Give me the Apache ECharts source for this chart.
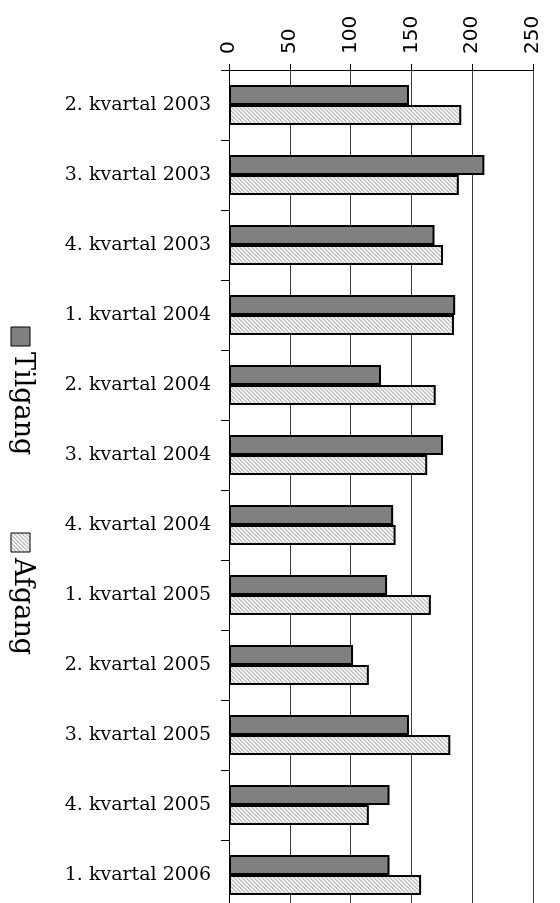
<!DOCTYPE html>
<html>
<head>
<meta charset="utf-8">
<script src="https://cdn.jsdelivr.net/npm/echarts@6/dist/echarts.min.js"></script>
<style>
html,body{margin:0;padding:0;background:#fff;}
#chart{width:560px;height:903px;}
</style>
</head>
<body>
<div id="chart"></div>
<script>
const categories = ['2. kvartal 2003','3. kvartal 2003','4. kvartal 2003','1. kvartal 2004','2. kvartal 2004','3. kvartal 2004','4. kvartal 2004','1. kvartal 2005','2. kvartal 2005','3. kvartal 2005','4. kvartal 2005','1. kvartal 2006'];
const seriesNames = ['Tilgang','Afgang'];
const tilgang = [148, 210, 169, 186, 125, 176, 135, 130, 102, 148, 132, 132];
const afgang = [191, 189, 176, 185, 170, 163, 137, 166, 115, 182, 115, 158];
const valueTicks = [0, 50, 100, 150, 200, 250];

function makeHatch() {
  const c = document.createElement('canvas');
  c.width = 8; c.height = 8;
  const ctx = c.getContext('2d');
  ctx.fillStyle = '#f6f6f6';
  ctx.fillRect(0, 0, 8, 8);
  for (let y = 0; y < 8; y++) {
    for (let x = 0; x < 8; x++) {
      const m = ((x - y) % 4 + 4) % 4;
      if (m === 0) { ctx.fillStyle = '#b8b8b8'; ctx.fillRect(x, y, 1, 1); }
      else if (m === 1) { ctx.fillStyle = '#d4d4d4'; ctx.fillRect(x, y, 1, 1); }
    }
  }
  return c;
}
const hatch = makeHatch();
const hatchFill = { image: hatch, repeat: 'repeat' };
const fills = ['#808080', hatchFill];

const chart = echarts.init(document.getElementById('chart'), null, { renderer: 'canvas' });

const legendGraphics = [];
const legendY = [327, 533];
seriesNames.forEach((name, i) => {
  legendGraphics.push({
    type: 'rect',
    shape: { x: 11, y: legendY[i], width: 19, height: 19 },
    style: { fill: fills[i], stroke: '#000', lineWidth: 1 }
  });
  legendGraphics.push({
    type: 'text',
    x: 22, y: legendY[i] + 25,
    rotation: -Math.PI / 2,
    style: {
      text: name,
      font: '27px "DejaVu Serif"',
      fill: '#000',
      align: 'left',
      verticalAlign: 'middle'
    }
  });
});

chart.setOption({
  animation: false,
  backgroundColor: '#fff',
  grid: { left: 229, width: 304, top: 70, height: 840, containLabel: false, outerBoundsMode: 'none' },
  xAxis: {
    type: 'value',
    position: 'top',
    min: valueTicks[0],
    max: valueTicks[valueTicks.length - 1],
    interval: valueTicks[1] - valueTicks[0],
    axisLine: { show: true, lineStyle: { color: '#000', width: 1 } },
    axisTick: { show: true, inside: false, length: 6, lineStyle: { color: '#000' } },
    splitLine: { show: true, lineStyle: { color: '#3a3a3a', width: 1 } },
    axisLabel: {
      rotate: -90,
      margin: 16,
      color: '#000',
      fontFamily: 'DejaVu Sans',
      fontSize: 20
    }
  },
  yAxis: {
    type: 'category',
    inverse: true,
    data: categories,
    axisLine: { show: true, lineStyle: { color: '#000', width: 1 } },
    axisTick: { show: true, length: 8, lineStyle: { color: '#000' } },
    axisLabel: {
      margin: 18,
      color: '#000',
      fontFamily: 'DejaVu Serif',
      fontSize: 19
    }
  },
  series: [
    {
      name: seriesNames[0],
      type: 'bar',
      data: tilgang,
      barWidth: 20,
      barGap: '0%',
      itemStyle: { color: fills[0], borderColor: '#000', borderWidth: 2 }
    },
    {
      name: seriesNames[1],
      type: 'bar',
      data: afgang,
      barWidth: 20,
      barGap: '0%',
      itemStyle: { color: hatchFill, borderColor: '#000', borderWidth: 2 }
    }
  ],
  graphic: legendGraphics
});
</script>
</body>
</html>
